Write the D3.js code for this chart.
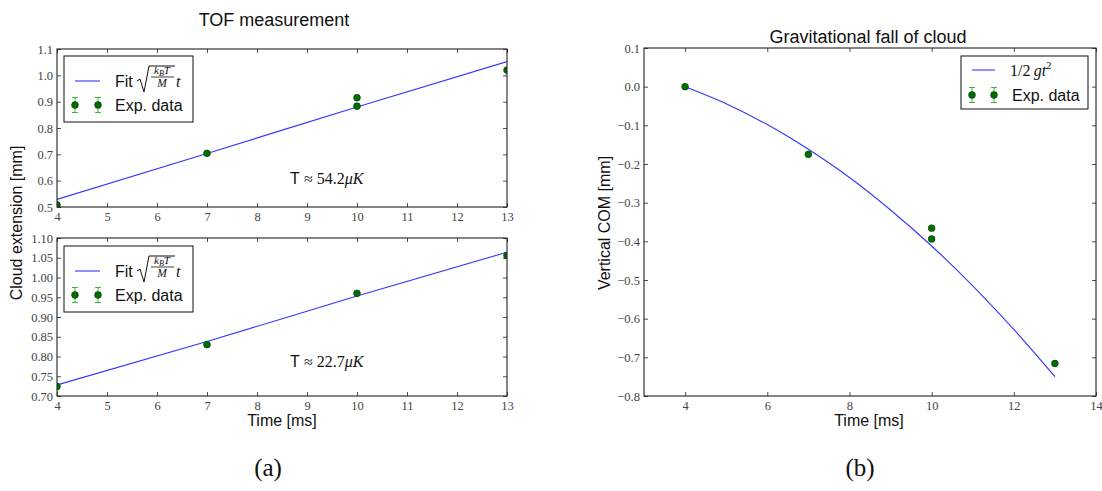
<!DOCTYPE html>
<html>
<head>
<meta charset="utf-8">
<script src="https://cdn.jsdelivr.net/npm/d3@7"></script>
<style>
  html, body { margin: 0; padding: 0; background: #fff; }
  svg { display: block; }
  .tick-label { font-family: "Liberation Serif", "DejaVu Serif", serif; font-size: 12.5px; fill: #444; }
  .sans { font-family: "Liberation Sans", Arial, sans-serif; fill: #111; }
  .serif { font-family: "Liberation Serif", "DejaVu Serif", serif; fill: #111; }
</style>
</head>
<body>
<svg id="fig" width="1102" height="491"></svg>
<script>
// ---- TOF measurement, run 1 (upper panel) ----
const tofTimesA = [4, 7, 10, 10, 13];
const tofWidthA = [0.508, 0.704, 0.915, 0.883, 1.020];
const fitTimesA = [4, 7, 10, 13];
const fitWidthA = [0.529, 0.703, 0.880, 1.052];

// ---- TOF measurement, run 2 (lower panel) ----
const tofTimesB = [4, 7, 10, 13];
const tofWidthB = [0.724, 0.830, 0.960, 1.056];
const fitTimesB = [4, 7, 10, 13];
const fitWidthB = [0.728, 0.838, 0.953, 1.064];

// ---- Gravitational fall of the cloud ----
const fallTimes = [4, 7, 10, 10, 13];
const fallCom = [0.000, -0.175, -0.366, -0.394, -0.716];
const curveTimes = [4, 5, 6, 7, 8, 9, 10, 11, 12, 13];
const curveCom = [0.000, -0.044, -0.098, -0.162, -0.235, -0.319, -0.412, -0.515, -0.628, -0.750];

// ---- Tick values ----
const tofXTicks = [4, 5, 6, 7, 8, 9, 10, 11, 12, 13];
const tofYTicksA = [0.5, 0.6, 0.7, 0.8, 0.9, 1.0, 1.1];
const tofYTicksB = [0.70, 0.75, 0.80, 0.85, 0.90, 0.95, 1.00, 1.05, 1.10];
const fallXTicks = [4, 6, 8, 10, 12, 14];
const fallYTicks = [0.1, 0.0, -0.1, -0.2, -0.3, -0.4, -0.5, -0.6, -0.7, -0.8];

const svg = d3.select("#fig");
const LINE = "#3535ff";
const DOT = "#007000";
const DOT_EDGE = "#003300";
const ERR = "#44b044";
let clipId = 0;

function panel(box, xDomain, yDomain, xTicks, yTicks, fmtX, fmtY) {
  const x = d3.scaleLinear().domain(xDomain).range([box.x0, box.x1]);
  const y = d3.scaleLinear().domain(yDomain).range([box.y1, box.y0]);
  const g = svg.append("g");
  const id = "clip" + (clipId++);
  g.append("clipPath").attr("id", id).append("rect")
    .attr("x", box.x0).attr("y", box.y0)
    .attr("width", box.x1 - box.x0).attr("height", box.y1 - box.y0);
  const plot = g.append("g").attr("clip-path", `url(#${id})`);

  // axes: ticks point inwards on all four sides
  const T = 4;
  const bottom = d3.axisBottom(x).tickValues(xTicks).tickSize(-T).tickPadding(5).tickFormat(fmtX);
  const top = d3.axisTop(x).tickValues(xTicks).tickSize(-T).tickFormat("");
  const left = d3.axisLeft(y).tickValues(yTicks).tickSize(-T).tickPadding(4).tickFormat(fmtY);
  const right = d3.axisRight(y).tickValues(yTicks).tickSize(-T).tickFormat("");
  const axes = [
    g.append("g").attr("transform", `translate(0,${box.y1})`).call(bottom),
    g.append("g").attr("transform", `translate(0,${box.y0})`).call(top),
    g.append("g").attr("transform", `translate(${box.x0},0)`).call(left),
    g.append("g").attr("transform", `translate(${box.x1},0)`).call(right)
  ];
  axes.forEach(a => {
    a.select(".domain").remove();
    a.selectAll(".tick line").attr("stroke", "#222").attr("stroke-width", 0.8);
    a.selectAll(".tick text").attr("class", "tick-label").attr("fill", null);
  });
  g.append("rect")
    .attr("x", box.x0).attr("y", box.y0)
    .attr("width", box.x1 - box.x0).attr("height", box.y1 - box.y0)
    .attr("fill", "none").attr("stroke", "#222").attr("stroke-width", 1.1);
  return { x, y, plot, g };
}

function drawLine(p, xs, ys) {
  const line = d3.line().x(d => p.x(d[0])).y(d => p.y(d[1])).curve(d3.curveMonotoneX);
  p.plot.append("path")
    .datum(xs.map((t, i) => [t, ys[i]]))
    .attr("d", line).attr("fill", "none")
    .attr("stroke", LINE).attr("stroke-width", 1.1);
}

function drawDots(p, xs, ys) {
  p.plot.selectAll(null).data(xs.map((t, i) => [t, ys[i]])).join("circle")
    .attr("cx", d => p.x(d[0])).attr("cy", d => p.y(d[1])).attr("r", 3.4)
    .attr("fill", DOT).attr("stroke", DOT_EDGE).attr("stroke-width", 0.6);
}

function legendErrMarker(g, cx, cy) {
  g.append("line").attr("x1", cx).attr("x2", cx).attr("y1", cy - 7.5).attr("y2", cy + 7.5)
    .attr("stroke", ERR).attr("stroke-width", 1);
  [cy - 7.5, cy + 7.5].forEach(yy => g.append("line")
    .attr("x1", cx - 3).attr("x2", cx + 3).attr("y1", yy).attr("y2", yy)
    .attr("stroke", ERR).attr("stroke-width", 1));
  g.append("circle").attr("cx", cx).attr("cy", cy).attr("r", 3.4)
    .attr("fill", DOT).attr("stroke", DOT_EDGE).attr("stroke-width", 0.6);
}

// legend with the fit formula sqrt(k_B T / M) t
function tofLegend(ox, oy) {
  const g = svg.append("g").attr("transform", `translate(${ox},${oy})`);
  g.append("rect").attr("x", 0).attr("y", 0).attr("width", 129).attr("height", 66)
    .attr("fill", "#fff").attr("stroke", "#111").attr("stroke-width", 1);
  g.append("line").attr("x1", 11).attr("x2", 36).attr("y1", 25).attr("y2", 25)
    .attr("stroke", LINE).attr("stroke-width", 1.1);
  g.append("text").attr("class", "sans").attr("x", 51).attr("y", 30.5)
    .attr("font-size", 16).text("Fit");
  g.append("path").attr("d", "M73,25 L76,23 L80,36 L85,10 L111,10")
    .attr("fill", "none").attr("stroke", "#111").attr("stroke-width", 1);
  const num = g.append("text").attr("class", "serif").attr("x", 98).attr("y", 18)
    .attr("text-anchor", "middle").attr("font-size", 11);
  num.append("tspan").attr("font-style", "italic").text("k");
  num.append("tspan").attr("font-style", "italic").attr("font-size", 8).attr("dy", 2).text("B");
  num.append("tspan").attr("font-style", "italic").attr("dy", -2).text("T");
  g.append("line").attr("x1", 87).attr("x2", 110).attr("y1", 21).attr("y2", 21)
    .attr("stroke", "#111").attr("stroke-width", 0.8);
  g.append("text").attr("class", "serif").attr("x", 98).attr("y", 31)
    .attr("text-anchor", "middle").attr("font-size", 11.5).attr("font-style", "italic").text("M");
  g.append("text").attr("class", "serif").attr("x", 112).attr("y", 30.5)
    .attr("font-size", 16).attr("font-style", "italic").text("t");
  legendErrMarker(g, 11, 49);
  legendErrMarker(g, 34, 49);
  g.append("text").attr("class", "sans").attr("x", 51).attr("y", 55)
    .attr("font-size", 16).text("Exp. data");
}

function tempLabel(x, y, value) {
  const t = svg.append("text").attr("x", x).attr("y", y).attr("font-size", 16);
  t.append("tspan").attr("class", "sans").text("T ");
  t.append("tspan").attr("class", "serif").text("\u2248 " + value);
  t.append("tspan").attr("class", "serif").attr("font-style", "italic").text("\u03BCK");
}

// ---------- Upper TOF panel ----------
const fmt1 = d3.format(".1f");
const pA = panel({ x0: 57, x1: 507, y0: 49, y1: 207 }, [4, 13], [0.5, 1.1],
  tofXTicks, tofYTicksA, d3.format("d"), fmt1);
drawLine(pA, fitTimesA, fitWidthA);
drawDots(pA, tofTimesA, tofWidthA);
tofLegend(64, 56);
tempLabel(290, 184, "54.2");

// ---------- Lower TOF panel ----------
const pB = panel({ x0: 57, x1: 507, y0: 238, y1: 396 }, [4, 13], [0.70, 1.10],
  tofXTicks, tofYTicksB, d3.format("d"), d3.format(".2f"));
drawLine(pB, fitTimesB, fitWidthB);
drawDots(pB, tofTimesB, tofWidthB);
tofLegend(64, 246);
tempLabel(290, 367, "22.7");

svg.append("text").attr("class", "sans").attr("x", 274).attr("y", 26)
  .attr("text-anchor", "middle").attr("font-size", 18).text("TOF measurement");
svg.append("text").attr("class", "sans").attr("x", 282).attr("y", 426)
  .attr("text-anchor", "middle").attr("font-size", 16).text("Time [ms]");
svg.append("text").attr("class", "sans")
  .attr("transform", "translate(22,223) rotate(-90)")
  .attr("text-anchor", "middle").attr("font-size", 16).text("Cloud extension [mm]");

// ---------- Gravitational fall panel ----------
const fmtMinus = d => d3.format(".1f")(d).replace("-", "\u2212");
const pC = panel({ x0: 644, x1: 1096, y0: 48, y1: 396 }, [3, 14], [-0.8, 0.1],
  fallXTicks, fallYTicks, d3.format("d"), fmtMinus);
drawLine(pC, curveTimes, curveCom);
drawDots(pC, fallTimes, fallCom);

const lg = svg.append("g").attr("transform", "translate(961,56)");
lg.append("rect").attr("width", 127).attr("height", 53)
  .attr("fill", "#fff").attr("stroke", "#111").attr("stroke-width", 1);
lg.append("line").attr("x1", 11).attr("x2", 34).attr("y1", 14).attr("y2", 14)
  .attr("stroke", LINE).attr("stroke-width", 1.1);
const gt = lg.append("text").attr("class", "serif").attr("x", 49).attr("y", 20).attr("font-size", 16);
gt.append("tspan").text("1/2\u2009");
gt.append("tspan").attr("font-style", "italic").text("gt");
gt.append("tspan").attr("font-size", 11).attr("dy", -7).text("2");
legendErrMarker(lg, 11, 39);
legendErrMarker(lg, 33, 39);
lg.append("text").attr("class", "sans").attr("x", 51).attr("y", 45)
  .attr("font-size", 16).text("Exp. data");

svg.append("text").attr("class", "sans").attr("x", 868).attr("y", 43)
  .attr("text-anchor", "middle").attr("font-size", 18).text("Gravitational fall of cloud");
svg.append("text").attr("class", "sans").attr("x", 869).attr("y", 426)
  .attr("text-anchor", "middle").attr("font-size", 16).text("Time [ms]");
svg.append("text").attr("class", "sans")
  .attr("transform", "translate(610,223) rotate(-90)")
  .attr("text-anchor", "middle").attr("font-size", 16).text("Vertical COM [mm]");

// ---------- Sub-figure captions ----------
svg.append("text").attr("class", "serif").attr("x", 268).attr("y", 476)
  .attr("text-anchor", "middle").attr("font-size", 25).text("(a)");
svg.append("text").attr("class", "serif").attr("x", 860).attr("y", 476)
  .attr("text-anchor", "middle").attr("font-size", 25).text("(b)");
</script>
</body>
</html>
